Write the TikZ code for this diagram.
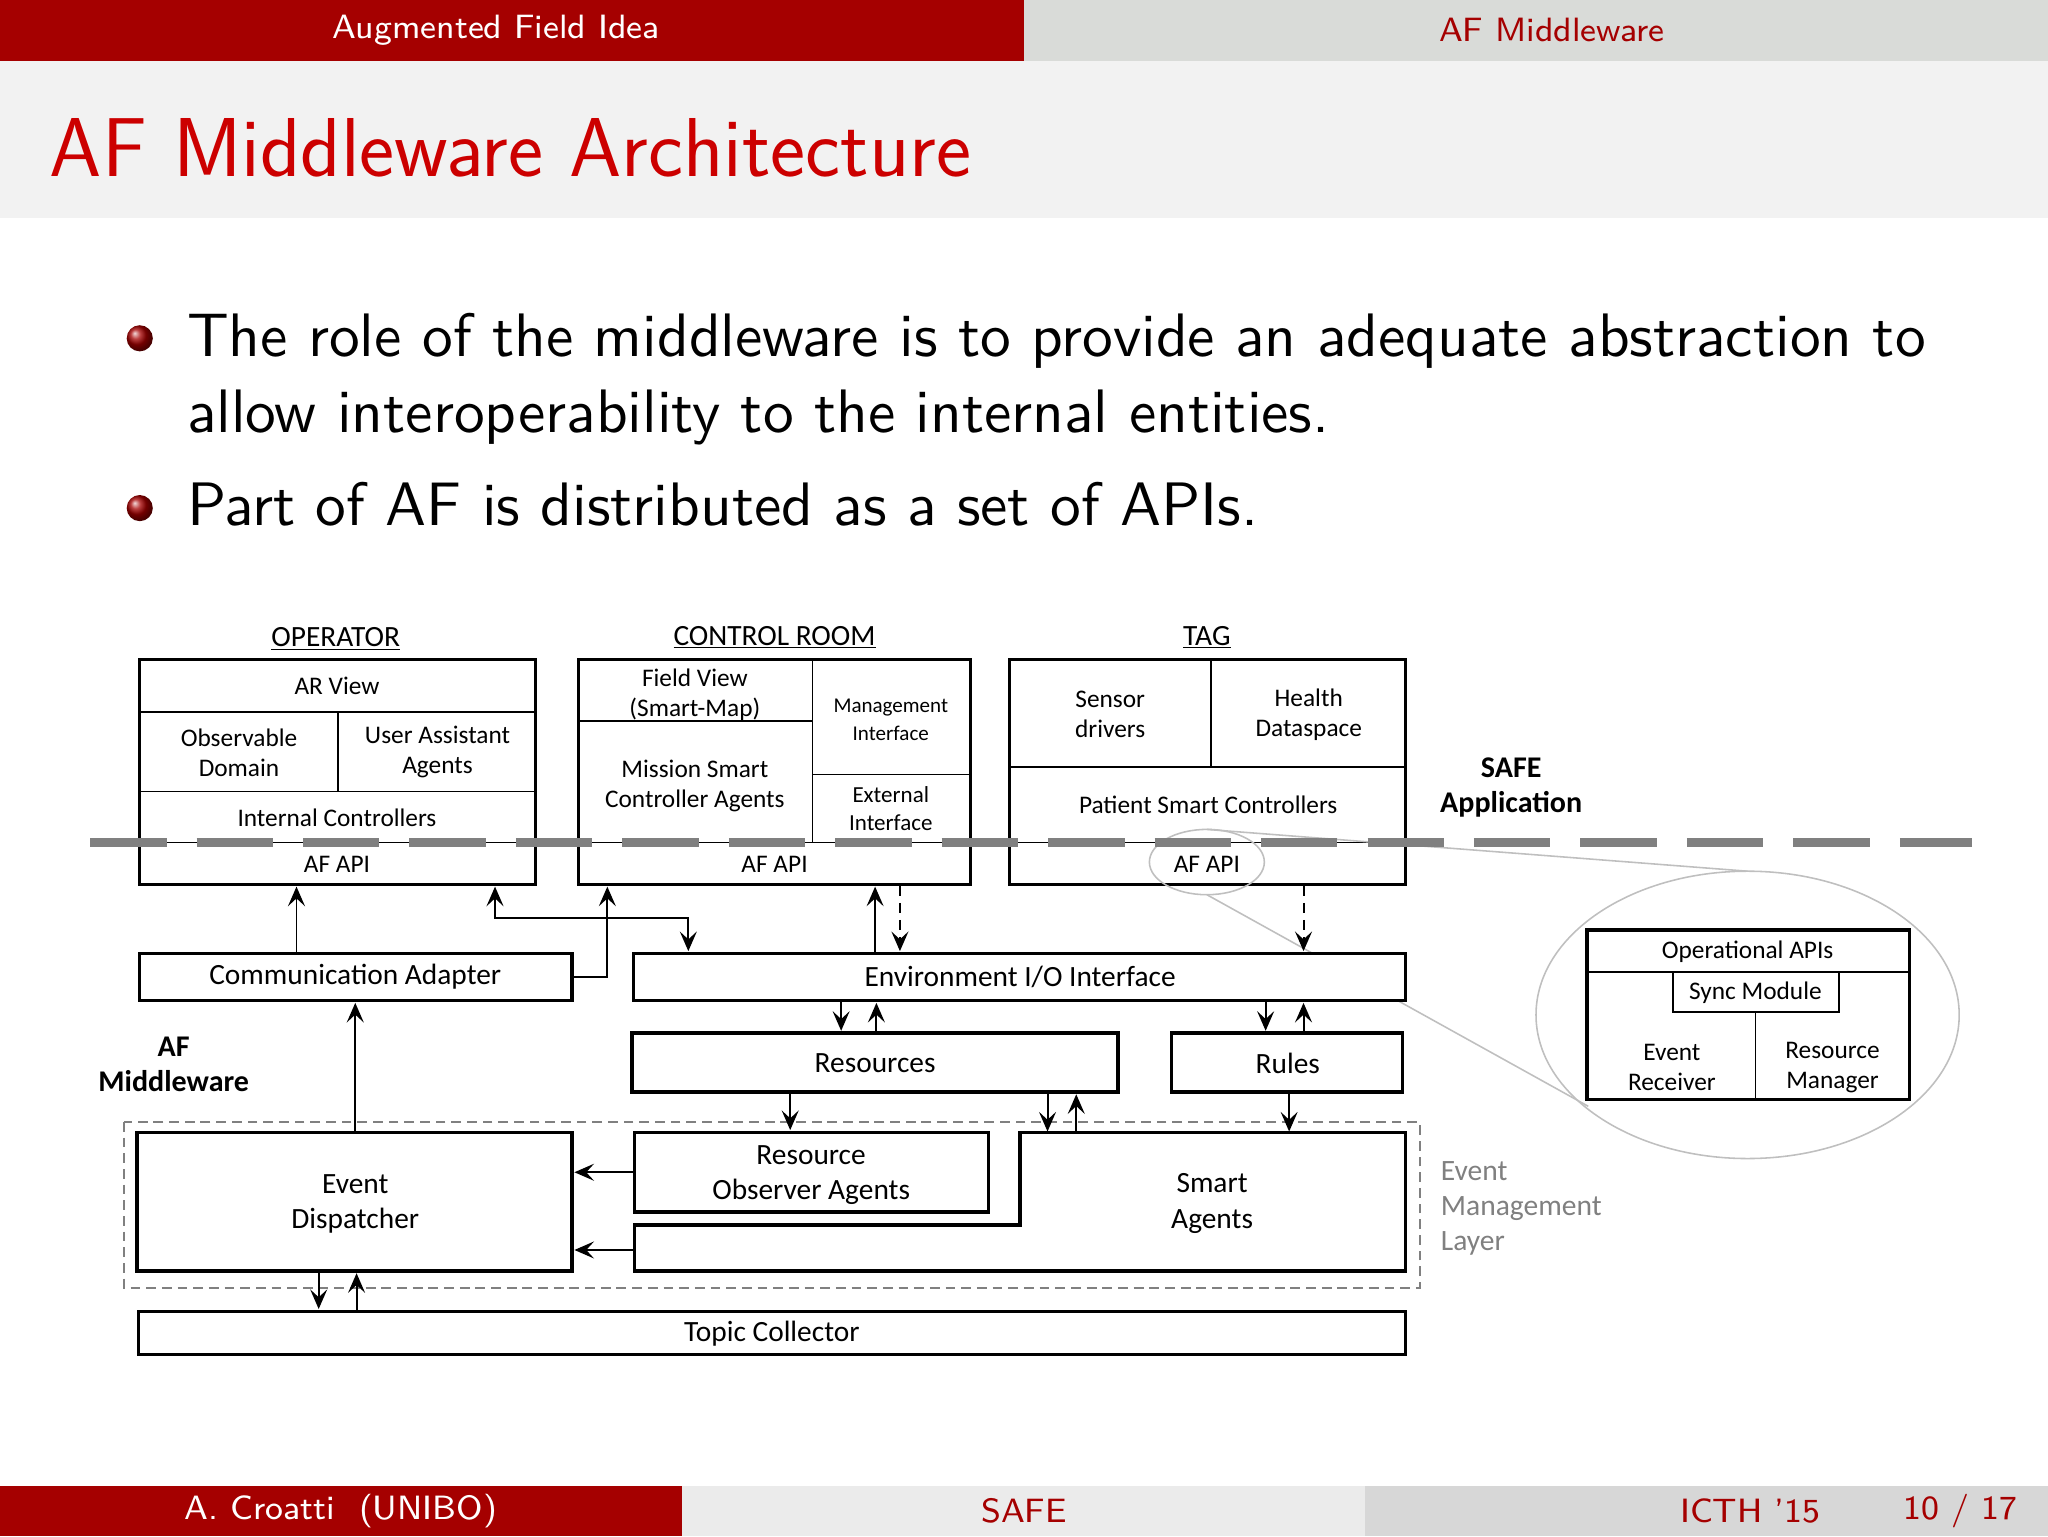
\documentclass[tikz,border=0pt]{standalone}
\usepackage{fontspec}
\newfontfamily\calfont{Carlito}
\newfontfamily\lmsansten[Extension=.otf]{lmsans10-regular}
\newfontfamily\lmsanseight[Extension=.otf]{lmsans8-regular}
\usetikzlibrary{positioning, arrows.meta}

\definecolor{unibored}{RGB}{165,0,0}
\definecolor{titlered}{RGB}{204,0,0}
\definecolor{headgray}{RGB}{217,219,216}
\definecolor{bandgray}{RGB}{242,242,242}
\definecolor{footmid}{RGB}{235,235,235}
\definecolor{footright}{RGB}{215,215,215}
\definecolor{layergray}{RGB}{128,128,128}

\tikzset{
  box/.style={draw, line width=2.6pt, fill=white, inner sep=0pt},
  cell/.style={line width=1.4pt},
  lbl/.style={font=\calfont\fontsize{19.4}{23}\selectfont, align=center, inner sep=0pt},
  smalllbl/.style={font=\calfont\fontsize{16.1}{21}\selectfont, align=center, inner sep=0pt},
  biglbl/.style={font=\calfont\fontsize{22.5}{27}\selectfont, align=center, inner sep=0pt},
  headlbl/.style={font=\calfont\fontsize{22.5}{25}\selectfont, inner sep=0pt},
  boldlbl/.style={font=\calfont\bfseries\fontsize{23}{27}\selectfont, align=center, inner sep=0pt},
  link/.style={->, line width=1.5pt, shorten >=0.5pt},
  zoomline/.style={draw=black!25, line width=1.2pt},
  headtxt/.style={font=\lmsanseight\fontsize{25.8}{30}\selectfont, inner sep=0pt},
  bodytxt/.style={font=\lmsansten\fontsize{47}{58}\selectfont, anchor=base west, inner sep=0pt}
}

\begin{document}
\begin{tikzpicture}[x=1pt, y=-1pt, >={Stealth[length=15pt, width=13pt, inset=6pt]}]
\useasboundingbox (0,0) rectangle (1568,1176);

% frame of the slide
\fill[unibored] (0,0) rectangle (784,47);
\fill[headgray] (784,0) rectangle (1568,47);
\fill[bandgray] (0,47) rectangle (1568,167);
\fill[unibored] (0,1138) rectangle (522,1176);
\fill[footmid] (522,1138) rectangle (1045,1176);
\fill[footright] (1045,1138) rectangle (1568,1176);

\node[headtxt, text=white] (section) at (380,23) {Augmented Field Idea};
\node[headtxt, text=unibored] (subsection) at (1188,23) {AF Middleware};
\node[font=\sffamily\fontsize{64}{70}\selectfont, text=titlered, anchor=base west, inner sep=0pt] (title) at (38,135) {AF Middleware Architecture};

\node[headtxt, text=white] (author) at (261,1157) {A.~Croatti~~(UNIBO)};
\node[headtxt, text=unibored] (short) at (784,1157) {SAFE};
\node[headtxt, text=unibored] (conf) at (1340,1157) {ICTH ’15};
\node[headtxt, text=unibored] (page) at (1501,1157) {10 / 17};

% bullets
\shade[ball color=unibored] (107,259) circle (10);
\shade[ball color=unibored] (107,389) circle (10);
\node[bodytxt] (item1) at (143,273) {The role of the middleware is to provide an adequate abstraction to};
\node[bodytxt] (item1b) at (143,331) {allow interoperability to the internal entities.};
\node[bodytxt] (item2) at (143,402) {Part of AF is distributed as a set of APIs.};

% top row: operator, control room, tag
\node[headlbl] (opname) at (257,489) {\underline{OPERATOR}};
\node[headlbl] (crname) at (593,488) {\underline{CONTROL ROOM}};
\node[headlbl] (tagname) at (924,488) {\underline{TAG}};

\node[box, minimum width=303, minimum height=172] (op) at (258.5,591) {};
\draw[cell] (107,545) -- (410,545) (107,606) -- (410,606) (107,645) -- (410,645) (259,545) -- (259,606);
\node[lbl] (arview) at (258,525) {AR View};
\node[lbl] (obsdom) at (183,576) {Observable\\Domain};
\node[lbl] (usragents) at (335,576) {User Assistant\\Agents};
\node[lbl] (intctrl) at (258,626) {Internal Controllers};
\node[lbl] (opapi) at (258,662) {AF API};

\node[box, minimum width=300, minimum height=172] (cr) at (593,591) {};
\draw[cell] (622,505) -- (622,645) (443,552) -- (622,552) (622,593) -- (743,593) (443,645) -- (743,645);
\node[lbl] (fieldview) at (532,532) {Field View\\(Smart-Map)};
\node[lbl] (mission) at (532,602) {Mission Smart\\Controller Agents};
\node[smalllbl] (mgmt) at (682,551) {Management\\Interface};
\node[font=\calfont\fontsize{17.6}{21}\selectfont, align=center, inner sep=0pt] (ext) at (682,619) {External\\Interface};
\node[lbl] (crapi) at (593,662) {AF API};

\node[box, minimum width=303, minimum height=172] (tag) at (924.5,591) {};
\draw[cell] (773,587) -- (1076,587) (927,505) -- (927,587) (773,645) -- (1076,645);
\node[lbl] (sensor) at (850,547) {Sensor\\drivers};
\node[lbl] (health) at (1002,547) {Health\\Dataspace};
\node[lbl] (patient) at (925,616) {Patient Smart Controllers};
\node[lbl] (tagapi) at (924,662) {AF API};

% zoom onto the tag API
\draw[zoomline] (924,635) -- (1338,667);
\draw[zoomline] (924,685) -- (1216,847);
\draw[zoomline] (924,660) ellipse [x radius=44, y radius=25];
\draw[zoomline] (1338,777) ellipse [x radius=162, y radius=110];

\node[box, minimum width=247, minimum height=130] (opapis) at (1338.5,777) {};
\draw[cell] (1215,744) -- (1462,744) (1344,775) -- (1344,842);
\node[draw, cell, fill=white, minimum width=127, minimum height=31, inner sep=0pt] (sync) at (1344.5,759.5) {};
\node[lbl] (opapitxt) at (1338,729) {Operational APIs};
\node[lbl] (synctxt) at (1344,760) {Sync Module};
\node[lbl] (evrecv) at (1280,817) {Event\\Receiver};
\node[lbl] (resmgr) at (1403,817) {Resource\\Manager};

% application / middleware border
\draw[black!50, line width=7pt, dash pattern=on 58.5pt off 23pt] (69,645) -- (1510,645);
\node[boldlbl] (safeapp) at (1157,603) {SAFE\\Application};
\node[boldlbl] (afmw) at (133,815) {AF\\Middleware};

% middleware boxes
\draw[layergray, line width=1.4pt, dash pattern=on 7.5pt off 4.5pt] (95,859) rectangle (1087,986);
\node[font=\calfont\fontsize{22.6}{27}\selectfont, text=layergray, align=left, anchor=west, inner sep=0pt] (eml) at (1103,925) {Event\\Management\\Layer};

\node[box, minimum width=331, minimum height=36] (comm) at (272.5,748) {};
\node[biglbl] (commtxt) at (272,748) {Communication Adapter};
\node[box, minimum width=591, minimum height=36] (envio) at (780.5,748) {};
\node[biglbl] (enviotxt) at (781,748) {Environment I/O Interface};
\node[box, minimum width=372, minimum height=45] (res) at (670,813.5) {};
\node[biglbl] (restxt) at (670,814) {Resources};
\node[box, minimum width=177, minimum height=45] (rules) at (985.5,813.5) {};
\node[biglbl] (rulestxt) at (986,814) {Rules};

\node[box, minimum width=333, minimum height=106] (ed) at (271.5,920) {};
\node[biglbl] (edtxt) at (272,921.5) {Event\\Dispatcher};
\node[box, minimum width=271, minimum height=61] (roa) at (621.5,897.5) {};
\node[biglbl] (roatxt) at (621,899.5) {Resource\\Observer Agents};
\draw[box] (781,867) -- (1076,867) -- (1076,973) -- (486,973) -- (486,938) -- (781,938) -- cycle;
\node[minimum width=295, minimum height=106, inner sep=0pt] (sa) at (928.5,920) {};
\node[biglbl] (satxt) at (928,921.5) {Smart\\Agents};
\coordinate (sastrip) at (486,957);
\node[box, minimum width=970, minimum height=33] (tc) at (591,1020.5) {};
\node[biglbl] (tctxt) at (591,1021) {Topic Collector};

% connectors
\draw[link] (227,0 |- comm.north) -- (227,0 |- op.south);
\draw[link] (comm.east) -| (465,0 |- cr.south);
\draw[link, <->, shorten <=0.5pt] (379,0 |- op.south) |- (527,703) -- (527,0 |- envio.north);
\draw[link] (670,0 |- envio.north) -- (670,0 |- cr.south);
\draw[link, dash pattern=on 8pt off 5pt] (689,0 |- cr.south) -- (689,0 |- envio.north);
\draw[link, dash pattern=on 8pt off 5pt] (998,0 |- tag.south) -- (998,0 |- envio.north);
\draw[link] (644,0 |- envio.south) -- (644,0 |- res.north);
\draw[link] (671,0 |- res.north) -- (671,0 |- envio.south);
\draw[link] (969,0 |- envio.south) -- (969,0 |- rules.north);
\draw[link] (998,0 |- rules.north) -- (998,0 |- envio.south);
\draw[link] (605,0 |- res.south) -- (605,0 |- roa.north);
\draw[link] (802,0 |- res.south) -- (802,0 |- sa.north);
\draw[link] (824,0 |- sa.north) -- (824,0 |- res.south);
\draw[link] (987,0 |- rules.south) -- (987,0 |- sa.north);
\draw[link] (272,0 |- ed.north) -- (272,0 |- comm.south);
\draw[link] (roa.west) -- (roa.west -| ed.east);
\draw[link] (sastrip) -- (sastrip -| ed.east);
\draw[link] (244,0 |- ed.south) -- (244,0 |- tc.north);
\draw[link] (273,0 |- tc.north) -- (273,0 |- ed.south);
\end{tikzpicture}
\end{document}
